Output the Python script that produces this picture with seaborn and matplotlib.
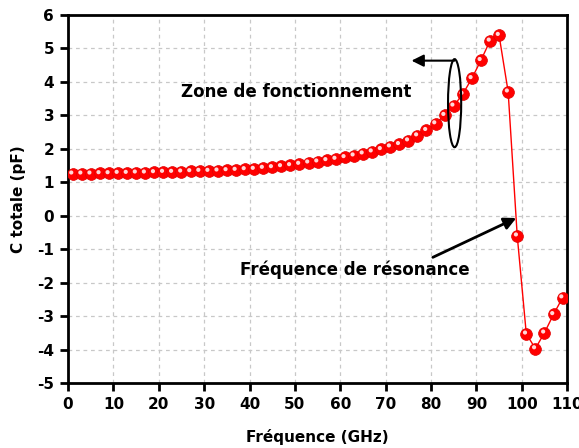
import matplotlib
matplotlib.use("Agg")
import matplotlib.pyplot as plt
import matplotlib.transforms as mtransforms
from matplotlib.patches import Ellipse
import pandas as pd
import seaborn as sns

# données
freq_ghz = [1, 3, 5, 7, 9, 11, 13, 15, 17, 19, 21, 23, 25, 27, 29, 31, 33, 35, 37, 39,
            41, 43, 45, 47, 49, 51, 53, 55, 57, 59, 61, 63, 65, 67, 69, 71, 73, 75, 77, 79,
            81, 83, 85, 87, 89, 91, 93, 95, 97, 99, 101, 103, 105, 107, 109]
c_totale = [1.25, 1.25, 1.25, 1.26, 1.26, 1.27, 1.27, 1.28, 1.28, 1.29, 1.30, 1.30, 1.31,
            1.32, 1.33, 1.33, 1.34, 1.35, 1.36, 1.38,
            1.39, 1.42, 1.44, 1.47, 1.50, 1.54, 1.58, 1.61, 1.65, 1.69, 1.74, 1.79, 1.85,
            1.91, 1.98, 2.06, 2.13, 2.24, 2.39, 2.55,
            2.75, 3.00, 3.28, 3.63, 4.10, 4.64, 5.22, 5.39, 3.70, -0.60, -3.53, -3.97,
            -3.50, -2.95, -2.45]
x_ticks = list(range(0, 111, 10))
y_ticks = list(range(-5, 7))

df = pd.DataFrame({"f": freq_ghz, "c": c_totale})

sns.set_style("whitegrid")
plt.rcParams["font.family"] = ["DejaVu Sans"]
plt.rcParams["font.weight"] = "bold"
plt.rcParams["axes.unicode_minus"] = False
plt.rcParams["text.color"] = "black"
plt.rcParams["axes.labelcolor"] = "black"
plt.rcParams["xtick.color"] = "black"
plt.rcParams["ytick.color"] = "black"

fig = plt.figure(figsize=(5.79, 4.48), dpi=100)
ax = fig.add_axes([0.1175, 0.145, 0.862, 0.822])

sns.lineplot(data=df, x="f", y="c", color="red", linewidth=1.0, ax=ax, zorder=3)
sns.scatterplot(data=df, x="f", y="c", color="#ff0000", s=72, edgecolor="#e00000",
                linewidth=0.5, ax=ax, zorder=4)
# petit reflet blanc pour l'effet "bille"
hl = mtransforms.offset_copy(ax.transData, fig=fig, x=-1.3, y=1.3, units="dots")
sns.scatterplot(data=df, x="f", y="c", color="#ffd8d8", s=9, edgecolor="none",
                ax=ax, zorder=5, transform=hl)

ax.set_xlim(0, 110)
ax.set_ylim(-5, 6)
ax.set_xticks(x_ticks)
ax.set_yticks(y_ticks)
ax.grid(True, linestyle=(0, (3, 3)), color="#c8c8c8", linewidth=0.9)
for s in ax.spines.values():
    s.set_color("black")
    s.set_linewidth(2)
ax.tick_params(axis="both", direction="out", length=6, width=2, color="black",
               labelcolor="black", labelsize=11, pad=4, bottom=True, left=True)
for lab in ax.get_xticklabels() + ax.get_yticklabels():
    lab.set_fontweight("bold")

ax.set_xlabel("Fréquence (GHz)", fontsize=11, fontweight="bold", labelpad=12)
ax.set_ylabel("C totale (pF)", fontsize=11, fontweight="bold", labelpad=8)

# annotations
ax.text(50.2, 3.70, "Zone de fonctionnement", fontsize=12, fontweight="bold",
        ha="center", va="center", zorder=6)
ax.add_patch(Ellipse((85.2, 3.36), 2.9, 2.63, fill=False, edgecolor="black",
                     linewidth=1.5, zorder=6))
ax.annotate("", xy=(75.7, 4.63), xytext=(85.2, 4.63),
            arrowprops=dict(arrowstyle="-|>", color="black", lw=1.5,
                            mutation_scale=18, shrinkA=0, shrinkB=0), zorder=6)
ax.text(37.8, -1.61, "Fréquence de résonance", fontsize=12, fontweight="bold",
        ha="left", va="center", zorder=6)
ax.annotate("", xy=(98.8, -0.07), xytext=(80.4, -1.245),
            arrowprops=dict(arrowstyle="-|>", color="black", lw=2,
                            mutation_scale=18, shrinkA=0, shrinkB=0), zorder=6)

fig.savefig("out.png", dpi=100)
